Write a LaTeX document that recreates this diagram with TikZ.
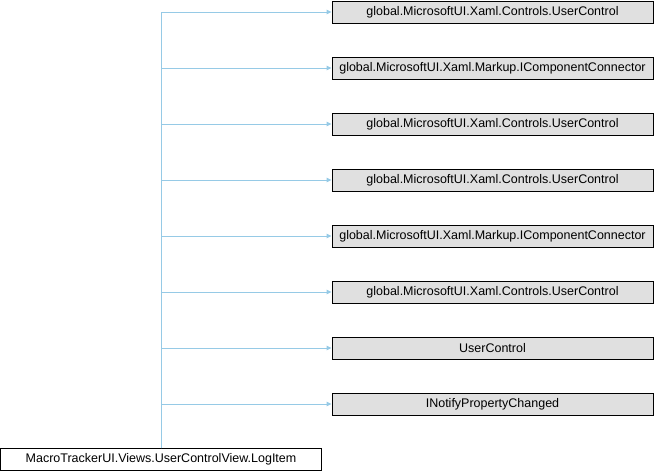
\documentclass[tikz,border=0pt]{standalone}
\usepackage{fontspec}
\setmainfont{Liberation Sans}
\usetikzlibrary{positioning,arrows.meta}

\definecolor{edgeblue}{RGB}{150,202,230}
\definecolor{basegray}{RGB}{224,224,224}

\tikzset{
  classbox/.style={draw=black, line width=0.9pt, minimum width=321pt, minimum height=22pt,
    inner sep=0pt, font=\fontsize{12.5pt}{14pt}\selectfont},
  basebox/.style={classbox, fill=basegray},
  inherit/.style={draw=edgeblue, line width=0.9pt, -{Triangle[length=5pt,width=4.5pt]}}
}

\begin{document}
\begin{tikzpicture}[x=1pt,y=1pt,node distance=56pt,on grid]
    \useasboundingbox (0,0) rectangle (654,-472);

    \node[classbox] (logitem) at (161,-459.5) {MacroTrackerUI.Views.UserControlView.LogItem};

    \node[basebox] (b1) at (492.5,-12) {global.MicrosoftUI.Xaml.Controls.UserControl};
    \node[basebox] (b2) [below=of b1] {global.MicrosoftUI.Xaml.Markup.IComponentConnector};
    \node[basebox] (b3) [below=of b2] {global.MicrosoftUI.Xaml.Controls.UserControl};
    \node[basebox] (b4) [below=of b3] {global.MicrosoftUI.Xaml.Controls.UserControl};
    \node[basebox] (b5) [below=of b4] {global.MicrosoftUI.Xaml.Markup.IComponentConnector};
    \node[basebox] (b6) [below=of b5] {global.MicrosoftUI.Xaml.Controls.UserControl};
    \node[basebox] (b7) [below=of b6] {UserControl};
    \node[basebox] (b8) [below=of b7] {INotifyPropertyChanged};

    \foreach \b in {b1,b2,b3,b4,b5,b6,b7,b8}
        \draw[inherit] (logitem.north) |- (\b.west);
\end{tikzpicture}
\end{document}
